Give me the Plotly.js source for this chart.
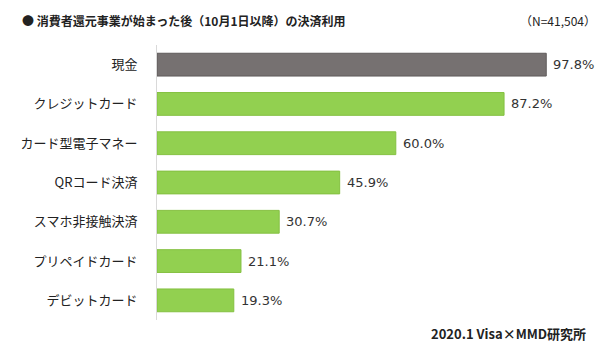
<!DOCTYPE html>
<html><head><meta charset="utf-8">
<script src="https://cdn.plot.ly/plotly-3.0.1.min.js"></script>
<style>body{margin:0;background:#fff}#c{width:605px;height:348px}</style>
</head><body><div id="c"></div>
<script>
const categories = ["現金","クレジットカード","カード型電子マネー","QRコード決済","スマホ非接触決済","プリペイドカード","デビットカード"];
const values = [97.8, 87.2, 60.0, 45.9, 30.7, 21.1, 19.3];
const barColors = ["#767171","#92d050","#92d050","#92d050","#92d050","#92d050","#92d050"];
const lineColors = ["#5f5b5b","#84c040","#84c040","#84c040","#84c040","#84c040","#84c040"];
const titleText = "● 消費者還元事業が始まった後（10月1日以降）の決済利用";
const nText = "（N=41,504）";
const sourceText = "2020.1 Visa×MMD研究所";
const font = "'Noto Sans CJK JP', 'Noto Sans', sans-serif";
const numFont = "'DejaVu Sans', sans-serif";

const trace = {
  type: "bar", orientation: "h",
  x: values, y: categories,
  marker: {color: barColors, line: {color: lineColors, width: 1}},
  width: 0.58,
  hoverinfo: "skip"
};
const labelAnns = values.map((v, i) => ({
  x: v, y: categories[i], xref: "x", yref: "y", text: v.toFixed(1) + "%",
  xanchor: "left", yanchor: "middle", xshift: 5, showarrow: false,
  font: {family: numFont, size: 13, color: "#333"}
}));
const layout = {
  width: 605, height: 348,
  margin: {l: 157, r: 50, t: 45, b: 28},
  paper_bgcolor: "#fff", plot_bgcolor: "#fff",
  showlegend: false,
  xaxis: {range: [0, 100], visible: false, fixedrange: true},
  yaxis: {autorange: "reversed", range: [6.5, -0.5], showline: true, linecolor: "#d9d9d9", linewidth: 1,
          ticks: "", showgrid: false, ticklabelstandoff: 16,
          tickfont: {family: font, size: 13, color: "#222"}, zeroline: false},
  annotations: labelAnns.concat([
    {text: "<b>" + titleText + "</b>", xref: "paper", yref: "paper", x: 0, y: 1, xanchor: "left", yanchor: "middle",
     font: {family: font, size: 12, color: "#222"}, showarrow: false, xshift: -137, yshift: 25},
    {text: nText, xref: "paper", yref: "paper", x: 1, y: 1, xanchor: "right", yanchor: "middle",
     font: {family: font, size: 12, color: "#222"}, showarrow: false, xshift: 43, yshift: 25},
    {text: "<b>" + sourceText + "</b>", xref: "paper", yref: "paper", x: 1, y: 0, xanchor: "right", yanchor: "middle",
     font: {family: font, size: 13, color: "#222"}, showarrow: false, xshift: 33, yshift: -13}
  ])
};
Plotly.newPlot("c", [trace], layout, {displayModeBar: false, staticPlot: true});
</script></body></html>
